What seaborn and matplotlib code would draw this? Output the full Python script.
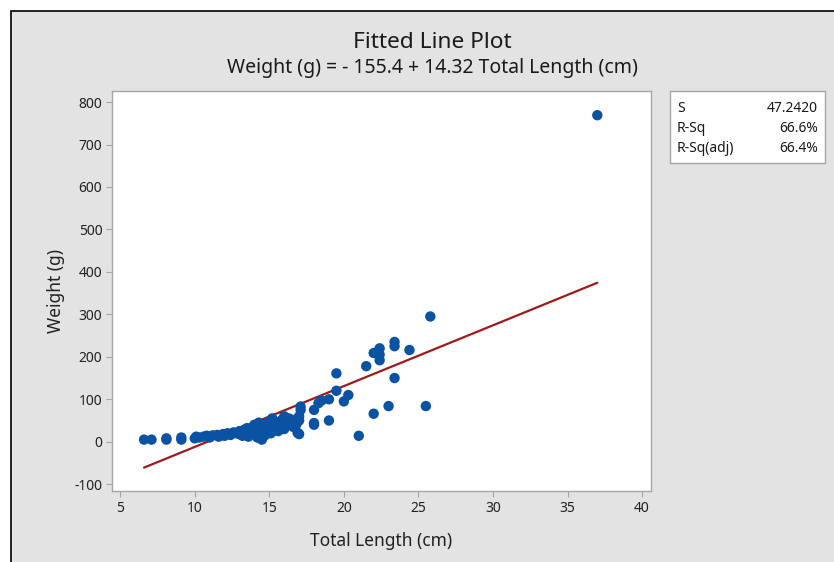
import matplotlib
matplotlib.use("Agg")
import matplotlib.pyplot as plt
import seaborn as sns
import numpy as np
import pandas as pd
from matplotlib.patches import Rectangle

# ---- data ----
length_cm = [6.6, 7.1, 8.1, 8.1, 9.1, 9.1, 10.0, 10.1, 10.3, 10.6, 10.8, 11.0, 11.2, 11.5,
             11.6, 11.9, 12.0, 12.2, 12.4, 12.6, 12.8, 13.0, 13.0, 13.2, 13.3, 13.5, 13.5,
             13.6, 13.8, 13.9, 14.0, 14.0, 14.1, 14.2, 14.3, 14.4, 14.5, 14.5, 14.6, 14.7,
             14.8, 14.9, 15.0, 15.0, 15.1, 15.2, 15.3, 15.4, 15.5, 15.6, 15.8, 15.9, 16.0,
             16.0, 16.2, 16.3, 16.5, 16.6, 16.8, 16.9, 17.0, 17.0, 17.1, 17.1, 17.0, 18.0,
             18.0, 18.0, 18.3, 18.5, 19.0, 19.0, 19.5, 19.5, 20.0, 20.3, 21.0, 21.5, 22.0,
             22.0, 22.4, 22.4, 22.4, 23.0, 23.4, 23.4, 23.4, 24.4, 25.5, 25.8, 37.0]
weight_g = [5, 5, 5, 8, 5, 10, 8, 12, 10, 12, 14, 10, 15, 16,
            12, 18, 14, 20, 16, 22, 20, 25, 18, 14, 28, 20, 32,
            12, 25, 35, 18, 40, 28, 10, 45, 32, 22, 5, 38, 15,
            42, 28, 48, 35, 20, 55, 40, 30, 45, 25, 50, 38, 60,
            30, 45, 55, 52, 35, 40, 21, 18, 60, 75, 83, 50, 40,
            75, 44, 91, 97, 100, 50, 161, 120, 95, 110, 14, 178, 209,
            66, 220, 192, 205, 84, 225, 235, 150, 216, 84, 295, 769]
intercept = -155.4
slope = 14.32
stat_labels = ["S", "R-Sq", "R-Sq(adj)"]
stat_values = ["47.2420", "66.6%", "66.4%"]
x_ticks = [5, 10, 15, 20, 25, 30, 35, 40]
y_ticks = [-100, 0, 100, 200, 300, 400, 500, 600, 700, 800]

df = pd.DataFrame({"Total Length (cm)": length_cm, "Weight (g)": weight_g})
xfit = np.array([min(length_cm), max(length_cm)])
fit = pd.DataFrame({"x": xfit, "y": intercept + slope * xfit})

sns.set_style("white")
plt.rcParams["font.family"] = ["Noto Sans", "DejaVu Sans"]
plt.rcParams["axes.unicode_minus"] = False

W, H = 834, 562
fig = plt.figure(figsize=(W / 100, H / 100), dpi=100)
fig.patch.set_facecolor("white")
# gray panel with black frame
fig.patches.append(Rectangle((11 / W, -0.1), 1.2, (H - 11) / H + 0.1, transform=fig.transFigure,
                             facecolor="#e3e3e3", edgecolor="black", linewidth=1.2, zorder=-5))

ax = fig.add_axes([112 / W, 1 - 491 / H, (651 - 112) / W, (491 - 91) / H])
ax.set_zorder(2)
ax.set_facecolor("white")

sns.lineplot(data=fit, x="x", y="y", ax=ax, color="#9e1a1c", linewidth=1.6, zorder=2)
sns.scatterplot(data=df, x="Total Length (cm)", y="Weight (g)", ax=ax, color="#0a53a3",
                s=56, edgecolor="none", zorder=3)

ax.set_xlim(4.45, 40.6)
ax.set_ylim(-116, 826)
ax.set_xticks(x_ticks)
ax.set_yticks(y_ticks)
for sp in ax.spines.values():
    sp.set_color("#a6a6a6")
    sp.set_linewidth(1.0)
ax.tick_params(axis="both", direction="out", length=4, width=0.8, color="#a6a6a6",
               labelsize=10, labelcolor="#222222", pad=3, bottom=True, left=True)
ax.set_xlabel("Total Length (cm)", fontsize=12.5, color="#222222", labelpad=12)
ax.set_ylabel("Weight (g)", fontsize=12.5, color="#222222", labelpad=7)

fig.text(432 / W, 1 - 42 / H, "Fitted Line Plot", ha="center", va="center", fontsize=16.3, color="#1a1a1a")
fig.text(432 / W, 1 - 68 / H, "Weight (g) = - 155.4 + 14.32 Total Length (cm)", ha="center",
         va="center", fontsize=14, color="#1a1a1a")

# stats box
fig.patches.append(Rectangle((670 / W, 1 - 163 / H), (825 - 670) / W, (163 - 91) / H,
                             transform=fig.transFigure, facecolor="white", edgecolor="#a6a6a6",
                             linewidth=1.0, zorder=1))
for i, (lab, val) in enumerate(zip(stat_labels, stat_values)):
    yy = 1 - (108 + i * 20.5) / H
    fig.text(677 / W, yy, lab, ha="left", va="center", fontsize=10, color="#1a1a1a")
    fig.text(818 / W, yy, val, ha="right", va="center", fontsize=10, color="#1a1a1a")

fig.savefig("out.png", dpi=100)
